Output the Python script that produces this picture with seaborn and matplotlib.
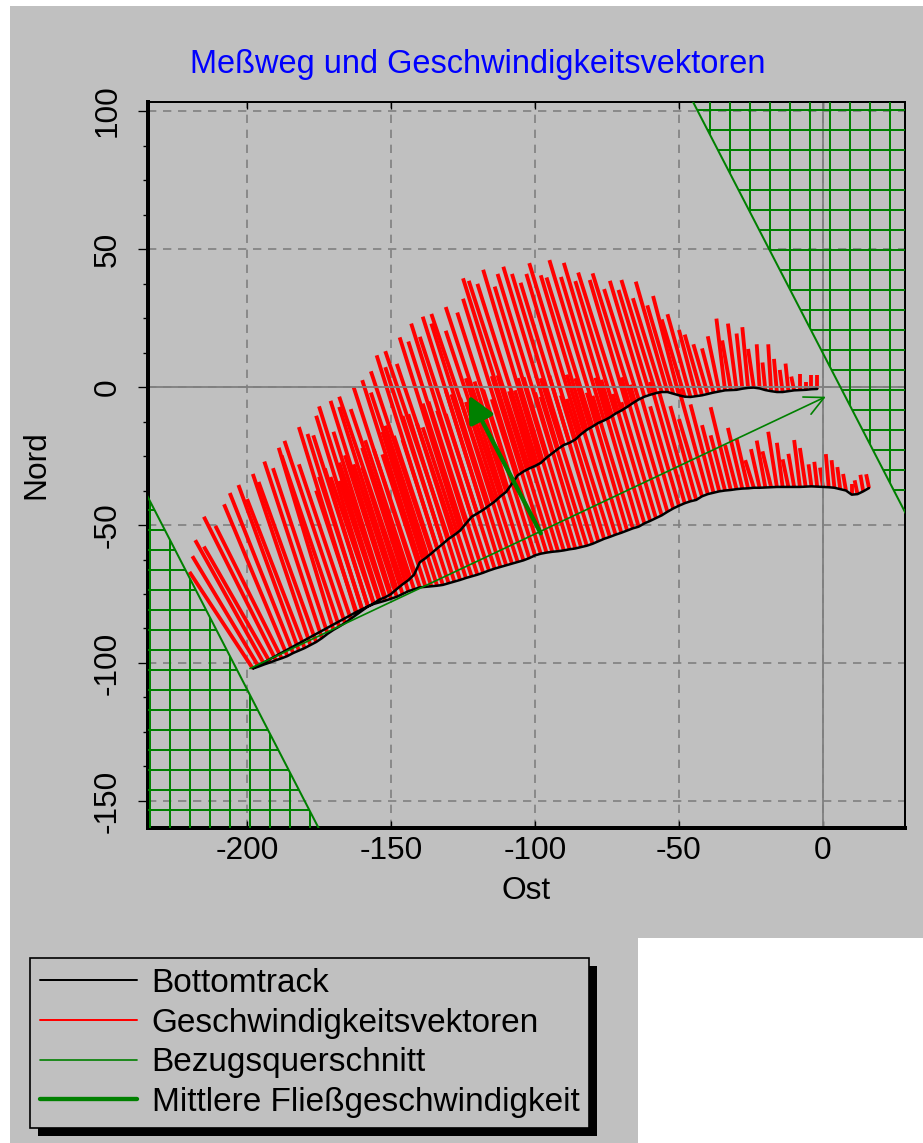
import numpy as np
import pandas as pd
import matplotlib
matplotlib.use("Agg")
import matplotlib.pyplot as plt
from matplotlib.collections import LineCollection
from matplotlib.lines import Line2D
from matplotlib.patches import Rectangle
from matplotlib.ticker import MultipleLocator
import seaborn as sns

# ------------------------------
# Data
# ------------------------------

# leg 1: lower path, right bank -> left bank (bottomtrack position)
fahrt1_ost = [16, 14, 12, 10, 8, 6, 4, 2, 0, -2,
              -4, -6, -8, -10, -12, -14, -16, -18, -20, -22,
              -24, -26, -28, -30, -32, -34, -36, -38, -40, -42,
              -44, -46, -48, -50, -52, -54, -56, -58, -60, -62,
              -64, -66, -68, -70, -72, -74, -76, -78, -80, -82,
              -84, -86, -88, -90, -92, -94, -96, -98, -100, -102,
              -104, -106, -108, -110, -112, -114, -116, -118, -120, -122,
              -124, -126, -128, -130, -132, -134, -136, -138, -140, -142,
              -144, -146, -148, -150, -152, -154, -156, -158, -160, -162]
fahrt1_nord = [-36.6, -37.8, -38.8, -39, -37.5, -37, -36.5, -36.3, -36.2, -36.1,
               -36, -36.1, -36.2, -36.2, -36.2, -36.2, -36.2, -36.3, -36.4, -36.5,
               -36.5, -36.7, -36.8, -37, -37.3, -37.5, -37.8, -38.3, -38.8, -39.6,
               -40.9, -41.4, -42.1, -43, -44, -45.2, -46.5, -47.5, -48.5, -49.4,
               -50.6, -51.2, -52, -52.8, -53.5, -54.3, -55, -55.9, -56.8, -57.5,
               -58, -58.5, -58.8, -59.2, -59.5, -59.7, -60, -60.4, -61, -62,
               -62.8, -63.4, -64, -64.6, -65.2, -65.8, -66.5, -67.3, -68, -68.6,
               -69.2, -69.9, -70.5, -71.1, -71.7, -72, -72.2, -72.4, -72.6, -73.3,
               -74, -75, -76, -76.7, -77.4, -78, -78.6, -79.5, -80.5, -81.5]
# velocity vectors (east / north component, drawn from the track point)
fahrt1_v_ost = [-1, -1, -1, 0, -1, -1, -1, -1, -1, -1,
                -1, -2, -2, -2, -2, -2, -3, -3, -3, -3,
                -3, -4, -5, -4, -7, -5, -6, -8, -10, -8,
                -9, -11, -12, -10, -11, -13, -14, -12, -13, -15,
                -15, -14, -14, -16, -17, -15, -15, -17, -18, -16,
                -16, -18, -18, -17, -17, -19, -19, -17, -18, -19,
                -20, -18, -18, -19, -19, -17, -18, -19, -19, -17,
                -17, -18, -18, -16, -17, -18, -17, -15, -16, -17,
                -16, -14, -15, -16, -16, -14, -15, -15, -15, -14]
fahrt1_v_nord = [5, 6, 5, 4, 6, 8, 10, 12, 7, 9,
                 8, 14, 17, 12, 10, 16, 20, 13, 17, 14,
                 10, 18, 22, 16, 30, 20, 24, 32, 38, 28,
                 34, 40, 44, 36, 40, 46, 50, 42, 46, 52,
                 54, 48, 50, 56, 58, 50, 52, 60, 60, 54,
                 56, 62, 62, 58, 58, 64, 64, 56, 60, 64,
                 66, 58, 60, 62, 64, 56, 58, 62, 62, 54,
                 56, 60, 60, 52, 54, 58, 56, 48, 50, 54,
                 52, 46, 48, 52, 50, 44, 46, 50, 48, 44]

# leg 2: upper path, left bank -> right bank
fahrt2_ost = [-198, -196, -194, -192, -190, -188, -186, -184, -182, -180,
              -178, -176, -174, -172, -170, -168, -166, -164, -162, -160,
              -158, -156, -154, -152, -150, -148, -146, -144, -142, -140,
              -138, -136, -134, -132, -130, -128, -126, -124, -122, -120,
              -118, -116, -114, -112, -110, -108, -106, -104, -102, -100,
              -98, -96, -94, -92, -90, -88, -86, -84, -82, -80,
              -78, -76, -74, -72, -70, -68, -66, -64, -62, -60,
              -58, -56, -54, -52, -50, -48, -46, -44, -42, -40,
              -38, -36, -34, -32, -30, -28, -26, -24, -22, -20,
              -18, -16, -14, -12, -10, -8, -6, -4, -2]
fahrt2_nord = [-102, -101.3, -100.5, -99.8, -99, -98.3, -97.5, -96.4, -95.5, -94.6,
               -93.5, -92.4, -91, -89.4, -88, -86.8, -85.5, -84, -82.5, -81,
               -79.5, -78.4, -77, -76.2, -75, -73.2, -71.5, -70, -68, -63.5,
               -62, -60.3, -58.5, -56.8, -55, -53.6, -52, -49.5, -47, -45.8,
               -44.5, -43, -41.5, -39.6, -38, -35, -32, -30.6, -29.5, -28.6,
               -27.5, -25.6, -24, -22.4, -21, -20.2, -19, -17.1, -15.5, -14.3,
               -13, -12.1, -11, -9.6, -8.5, -7.2, -5.8, -4.5, -3.5, -2.8,
               -2.2, -1.8, -1.8, -2.4, -3, -3.5, -3.6, -3.3, -3, -2.5,
               -2, -1.6, -1.2, -1.1, -1, -0.6, -0.3, -0.2, -0.5, -1.1,
               -1.5, -1.8, -1.8, -1.5, -1.2, -1.1, -1, -0.8, -0.7]
fahrt2_v_ost = [-22, -23, -24, -23, -25, -23, -22, -22, -21, -20,
                -20, -20, -20, -19, -19, -20, -21, -18, -20, -19,
                -19, -20, -21, -18, -21, -20, -22, -20, -21, -20,
                -19, -21, -21, -20, -22, -20, -21, -20, -21, -20,
                -21, -20, -22, -19, -21, -19, -19, -21, -21, -20,
                -20, -18, -19, -19, -18, -17, -17, -18, -16, -16,
                -17, -15, -16, -14, -15, -13, -14, -12, -12, -11,
                -12, -10, -11, -9, -9, -8, -8, -6, -6, -5,
                -4, -4, -3, -3, -3, -2, -2, -2, -1, -1,
                -1, -1, -1, -1, -1, 0, 0, 0, 0]
fahrt2_v_nord = [35, 40, 45, 42, 52, 48, 55, 58, 60, 54,
                 62, 58, 64, 60, 66, 62, 66, 56, 68, 64,
                 62, 68, 70, 60, 70, 66, 68, 62, 68, 66,
                 60, 66, 70, 64, 68, 62, 70, 66, 70, 64,
                 70, 66, 68, 60, 67, 62, 64, 70, 68, 66,
                 70, 62, 65, 66, 62, 58, 60, 62, 56, 54,
                 59, 52, 56, 48, 50, 46, 47, 40, 42, 38,
                 41, 34, 40, 32, 36, 28, 30, 24, 22, 18,
                 16, 20, 26, 18, 24, 20, 22, 14, 16, 10,
                 17, 12, 8, 10, 5, 6, 3, 5, 5]

# reference cross section, mean flow velocity, bank limits
bezug_start = (-199, -102)
bezug_ende = (1, -3.5)
mittel_start = (-98, -53)
mittel_ende = (-123, -3)
grenze_links = [(-233, -42.8), (-175.7, -158.7)]
grenze_rechts = [(-45.1, 103.3), (28.5, -45.3)]

x_ticks = [-200, -150, -100, -50, 0]
y_ticks = [-150, -100, -50, 0, 50, 100]

# ------------------------------
# Style
# ------------------------------
DPI = 120
W, H = 923, 1143
GRAU = "#C0C0C0"
GRUEN = "#008000"

sns.set_style("ticks")
plt.rcParams["font.family"] = ["Liberation Sans", "DejaVu Sans"]
plt.rcParams["font.size"] = 19
plt.rcParams["text.color"] = "black"
plt.rcParams["axes.labelcolor"] = "black"
plt.rcParams["xtick.color"] = "black"
plt.rcParams["ytick.color"] = "black"
plt.rcParams["hatch.linewidth"] = 1.2
plt.rcParams["axes.unicode_minus"] = False

fig = plt.figure(figsize=(W / DPI, H / DPI), dpi=DPI, facecolor="white")

# grey window areas (white corner bottom right)
fig.patches.append(Rectangle((10 / W, 1 - 938 / H), 1 - 10 / W, (938 - 6) / H,
                             transform=fig.transFigure, facecolor=GRAU,
                             edgecolor="none", zorder=-10))
fig.patches.append(Rectangle((10 / W, 0), (638 - 10) / W, 1 - 938 / H,
                             transform=fig.transFigure, facecolor=GRAU,
                             edgecolor="none", zorder=-10))

ax = fig.add_axes([148 / W, 1 - 828 / H, (905 - 148) / W, (828 - 102) / H])
ax.set_facecolor(GRAU)
ax.set_xlim(-234.4, 28.5)
ax.set_ylim(-159.8, 103.3)

# grid + zero lines
ax.set_xticks(x_ticks)
ax.set_yticks(y_ticks)
ax.yaxis.set_minor_locator(MultipleLocator(12.5))
ax.grid(True, color="#808080", linestyle=(0, (5, 4)), linewidth=1.0, zorder=0)
ax.set_axisbelow(True)
ax.axhline(0, color="#808080", linewidth=1.1, zorder=2.5)
ax.axvline(0, color="#808080", linewidth=1.1, zorder=2.5)

# ------------------------------
# Velocity vectors
# ------------------------------
ost = np.array(fahrt1_ost + fahrt2_ost, dtype=float)
nord = np.array(fahrt1_nord + fahrt2_nord, dtype=float)
v_ost = np.array(fahrt1_v_ost + fahrt2_v_ost, dtype=float)
v_nord = np.array(fahrt1_v_nord + fahrt2_v_nord, dtype=float)
segs = np.stack([np.column_stack([ost, nord]),
                 np.column_stack([ost + v_ost, nord + v_nord])], axis=1)
ax.add_collection(LineCollection(segs, colors="#FF0000", linewidths=2.3, zorder=2))

# ------------------------------
# Bottomtrack
# ------------------------------
track = pd.DataFrame({"Ost": ost, "Nord": nord})
sns.lineplot(data=track, x="Ost", y="Nord", sort=False, estimator=None,
             color="black", linewidth=1.5, ax=ax, zorder=3)

# ------------------------------
# Hatched bank areas
# ------------------------------
for (p, q), seite in [(grenze_links, -1), (grenze_rechts, 1)]:
    p = np.array(p)
    q = np.array(q)
    d = q - p
    a, b = p - d, q + d
    poly = np.array([a, b, b + [seite * 500, 0], a + [seite * 500, 0]])
    ax.fill(poly[:, 0], poly[:, 1], facecolor="none", edgecolor=GRUEN,
            hatch="+", linewidth=0, zorder=3.5)
    ax.plot([a[0], b[0]], [a[1], b[1]], color=GRUEN, linewidth=1.2, zorder=3.6)

# reference cross section
ax.annotate("", xy=bezug_ende, xytext=bezug_start,
            arrowprops=dict(arrowstyle="->,head_length=0.6,head_width=0.3",
                            color=GRUEN, linewidth=1.0, shrinkA=0, shrinkB=0),
            zorder=4)
# mean flow velocity
ax.annotate("", xy=mittel_ende, xytext=mittel_start,
            arrowprops=dict(arrowstyle="-|>,head_length=0.7,head_width=0.35",
                            color=GRUEN, linewidth=2.6, shrinkA=0, shrinkB=0),
            zorder=4)

# ------------------------------
# Axes decoration
# ------------------------------
ax.set_xlabel("Ost", labelpad=6)
ax.set_ylabel("Nord", labelpad=25)
for side in ["left", "right", "top", "bottom"]:
    ax.spines[side].set_visible(True)
    ax.spines[side].set_color("black")
ax.spines["left"].set_linewidth(2.4)
ax.spines["bottom"].set_linewidth(2.4)
ax.spines["top"].set_linewidth(1.2)
ax.spines["right"].set_linewidth(1.2)
ax.tick_params(axis="y", which="major", direction="out", length=6, width=0.8, pad=9)
ax.tick_params(axis="y", which="minor", direction="out", length=3, width=0.8)
ax.tick_params(axis="x", which="major", direction="in", length=4, width=0.8,
               top=True, pad=5)
plt.setp(ax.get_yticklabels(), rotation=90, va="center")

fig.text(478 / W, 1 - 65 / H, "Meßweg und Geschwindigkeitsvektoren",
         color="#0000FF", ha="center", va="center", fontsize=19.5)

# ------------------------------
# Legend with hard shadow
# ------------------------------
handles = [Line2D([], [], color="black", linewidth=1.2),
           Line2D([], [], color="#FF0000", linewidth=1.2),
           Line2D([], [], color=GRUEN, linewidth=1.0),
           Line2D([], [], color=GRUEN, linewidth=2.6)]
labels = ["Bottomtrack", "Geschwindigkeitsvektoren", "Bezugsquerschnitt",
          "Mittlere Fließgeschwindigkeit"]
leg = fig.legend(handles, labels, loc="upper left",
                 bbox_to_anchor=(30 / W, 1 - 958 / H), bbox_transform=fig.transFigure,
                 borderaxespad=0, fancybox=False, framealpha=1, facecolor=GRAU,
                 edgecolor="black", handlelength=2.9, handletextpad=0.45,
                 labelspacing=0.26, borderpad=0.3, fontsize=20)
leg.get_frame().set_linewidth(1.0)

fig.canvas.draw()
bb = leg.get_window_extent()
fig.patches.append(Rectangle(((bb.x0 + 8) / W, (bb.y0 - 8) / H), bb.width / W,
                             bb.height / H, transform=fig.transFigure,
                             facecolor="black", edgecolor="none", zorder=1))

fig.savefig("out.png", dpi=DPI, facecolor="white")
